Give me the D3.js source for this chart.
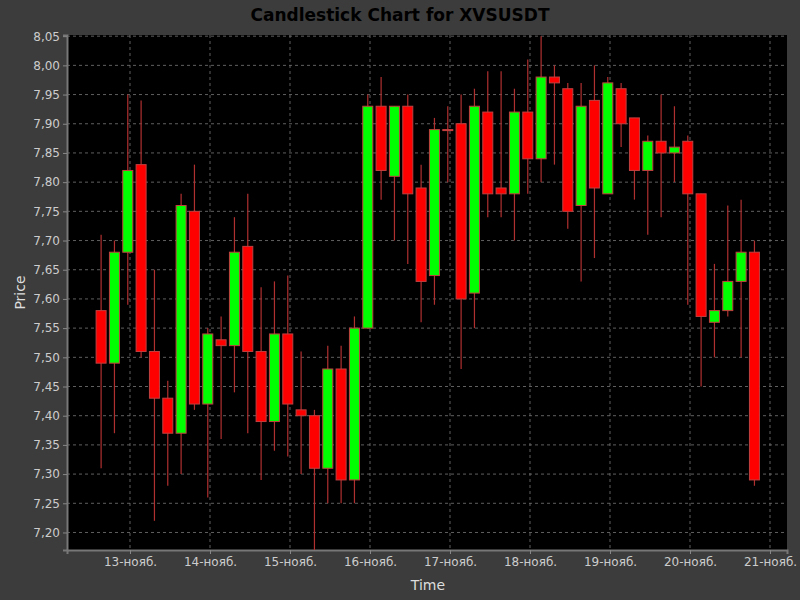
<!DOCTYPE html>
<html>
<head>
<meta charset="utf-8">
<script src="https://cdn.jsdelivr.net/npm/d3@7"></script>
<style>
  body { margin: 0; background: #3c3c3c; }
  text { font-family: "DejaVu Sans", sans-serif; }
</style>
</head>
<body>
<svg id="chart" width="800" height="600"></svg>
<script>
// Candle data (4h candles)
let opens  = [7.58,7.49,7.68,7.83,7.51,7.43,7.37,7.75,7.42,7.53,7.52,7.69,7.51,7.39,7.54,7.41,7.40,7.31,7.48,7.29,
              7.55,7.93,7.81,7.93,7.79,7.64,7.89,7.90,7.61,7.92,7.79,7.78,7.92,7.84,7.98,7.96,7.76,7.94,7.78,7.96,
              7.91,7.82,7.87,7.85,7.87,7.78,7.56,7.58,7.63,7.68];
let highs  = [7.71,7.70,7.95,7.94,7.65,7.46,7.78,7.83,7.55,7.57,7.74,7.78,7.62,7.63,7.64,7.51,7.41,7.52,7.52,7.57,
              7.95,7.98,7.93,7.95,7.83,7.91,7.93,7.95,7.96,7.99,7.99,7.96,8.01,8.05,8.00,7.97,7.97,8.00,7.98,7.97,
              7.91,7.88,7.95,7.93,7.88,7.78,7.66,7.76,7.77,7.70];
let lows   = [7.31,7.37,7.59,7.50,7.22,7.28,7.30,7.41,7.26,7.36,7.44,7.37,7.29,7.34,7.33,7.30,7.17,7.25,7.25,7.25,
              7.55,7.77,7.70,7.66,7.56,7.59,7.80,7.48,7.55,7.74,7.74,7.70,7.78,7.80,7.83,7.72,7.63,7.67,7.78,7.86,
              7.77,7.71,7.74,7.80,7.59,7.45,7.50,7.57,7.50,7.28];
let closes = [7.49,7.68,7.82,7.51,7.43,7.37,7.76,7.42,7.54,7.52,7.68,7.51,7.39,7.54,7.42,7.40,7.31,7.48,7.29,7.55,
              7.93,7.82,7.93,7.78,7.63,7.89,7.89,7.60,7.93,7.78,7.78,7.92,7.84,7.98,7.97,7.75,7.93,7.79,7.97,7.90,
              7.82,7.87,7.85,7.86,7.78,7.57,7.58,7.63,7.68,7.29];
let firstTime = new Date(2024, 10, 12, 15, 20);
let yTicks = d3.range(7.20, 8.051, 0.05);

let data = opens.map((o, i) => ({
    date: d3.timeHour.offset(firstTime, 4 * i),
    open: o, high: highs[i], low: lows[i], close: closes[i]
}));

let svg = d3.select("#chart");
let plotLeft = 67, plotRight = 787, plotTop = 35, plotBottom = 550;

let xScale = d3.scaleTime()
    .domain([new Date(2024, 10, 12, 5, 6), new Date(2024, 10, 21, 5, 6)])
    .range([plotLeft, plotRight]);
let yScale = d3.scaleLinear()
    .domain([7.17, 8.052])
    .range([plotBottom, plotTop]);

// Plot background
svg.append("rect")
    .attr("x", plotLeft).attr("y", plotTop)
    .attr("width", plotRight - plotLeft).attr("height", plotBottom - plotTop)
    .attr("fill", "#000");

// Title
svg.append("text")
    .attr("x", 400).attr("y", 21)
    .attr("text-anchor", "middle")
    .attr("fill", "#000")
    .attr("font-size", 17).attr("font-weight", "bold")
    .text("Candlestick Chart for XVSUSDT");

let fmtDay = d => d3.timeFormat("%d")(d) + "-нояб.";
let dayTicks = d3.timeDay.range(new Date(2024, 10, 13), new Date(2024, 10, 21, 1));

// Grid
svg.append("g").selectAll("line").data(dayTicks).join("line")
    .attr("x1", d => xScale(d)).attr("x2", d => xScale(d))
    .attr("y1", plotTop).attr("y2", plotBottom)
    .attr("stroke", "#777").attr("stroke-dasharray", "3,3").attr("stroke-width", 0.8);
svg.append("g").selectAll("line").data(yTicks).join("line")
    .attr("x1", plotLeft).attr("x2", plotRight)
    .attr("y1", d => yScale(d)).attr("y2", d => yScale(d))
    .attr("stroke", "#777").attr("stroke-dasharray", "3,3").attr("stroke-width", 0.8);

// Axes
let xAxis = svg.append("g")
    .attr("transform", "translate(0," + plotBottom + ")")
    .call(d3.axisBottom(xScale).tickValues(dayTicks).tickFormat(fmtDay).tickSize(4));
let yAxis = svg.append("g")
    .attr("transform", "translate(" + plotLeft + ",0)")
    .call(d3.axisLeft(yScale).tickValues(yTicks).tickFormat(d => d3.format(".2f")(d).replace(".", ",")).tickSize(4));
[xAxis, yAxis].forEach(a => {
    a.selectAll("text").attr("fill", "#ccc").attr("font-size", 12);
    a.selectAll("line").attr("stroke", "#888");
    a.select(".domain").attr("stroke", "#777").attr("stroke-width", 2);
});

svg.append("text")
    .attr("x", 428).attr("y", 590)
    .attr("text-anchor", "middle").attr("fill", "#ddd").attr("font-size", 14)
    .text("Time");
svg.append("text")
    .attr("transform", "translate(25," + ((plotTop + plotBottom) / 2) + ") rotate(-90)")
    .attr("text-anchor", "middle").attr("fill", "#ddd").attr("font-size", 14)
    .text("Price");

// Candles
let candles = svg.append("g").selectAll("g").data(data).join("g");
candles.append("line")
    .attr("x1", d => xScale(d.date)).attr("x2", d => xScale(d.date))
    .attr("y1", d => yScale(d.high)).attr("y2", d => yScale(d.low))
    .attr("stroke", "#b03030").attr("stroke-width", 1.2);
candles.append("rect")
    .attr("x", d => xScale(d.date) - 5)
    .attr("width", 10)
    .attr("y", d => yScale(Math.max(d.open, d.close)))
    .attr("height", d => Math.max(1, Math.abs(yScale(d.open) - yScale(d.close))))
    .attr("fill", d => d.close > d.open ? "#00ff00" : "#ff0000")
    .attr("stroke", "#c04040").attr("stroke-width", 1);
</script>
</body>
</html>
